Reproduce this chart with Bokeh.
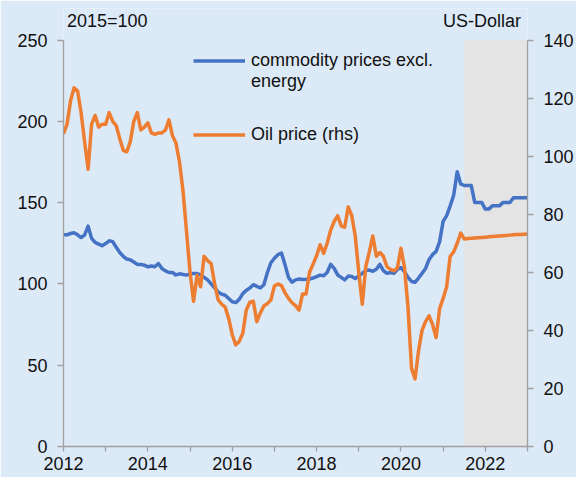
from bokeh.plotting import figure
from bokeh.models import (Range1d, LinearAxis, FixedTicker, BoxAnnotation, Label,
                          Legend, LegendItem)
from bokeh.embed import file_html
from bokeh.resources import INLINE

# ---------------- data (monthly, index 0 = start of 2012) ----------------
start_year = 2012
n_months = 133

commodity = [
    130.2, 130.2, 131.0, 131.5, 130.2, 128.5, 130.0, 135.5, 128.0, 125.5, 124.5, 123.5,
    124.8, 126.5, 126.0, 122.5, 119.3, 117.0, 115.3, 114.8, 113.5, 112.0, 112.0, 111.5,
    110.5, 111.0, 110.5, 112.5, 109.5, 108.0, 107.0, 107.0, 105.5, 106.2, 105.8, 105.4,
    106.2, 106.4, 106.4, 105.5, 104.0, 102.5, 100.0, 97.5, 95.0, 93.7, 93.0, 91.0,
    89.0, 88.5, 90.5, 94.0, 96.0, 97.5, 99.5, 98.5, 97.5, 99.5, 107.0, 113.0,
    115.8, 118.0, 119.0, 112.0, 104.0, 101.0, 102.5, 103.0, 102.7, 102.8, 103.0, 103.6,
    104.5, 105.4, 105.0, 107.0, 112.0, 109.5, 105.5, 104.0, 102.5, 104.8, 104.6, 103.3,
    105.0, 106.5, 108.4, 108.5, 107.8, 109.0, 112.0, 108.2, 106.5, 107.0, 106.5, 109.0,
    110.0, 107.5, 104.0, 101.5, 101.0, 103.6, 106.5, 109.5, 115.0, 118.0, 120.0, 126.0,
    138.5, 142.0, 148.0, 154.5, 169.0, 161.5, 160.5, 160.5, 160.5, 150.0, 150.0, 150.0,
    146.0, 146.0, 148.0, 148.0, 148.0, 150.0, 150.0, 150.0, 153.0, 153.0, 153.0, 153.0,
    153.0,
]

oil = [
    107.7, 111.0, 119.0, 123.5, 122.5, 115.0, 105.0, 95.5, 111.0, 114.0, 110.0, 111.0,
    111.0, 115.0, 112.0, 110.5, 106.0, 102.0, 101.5, 105.0, 112.0, 115.0, 109.0, 110.0,
    111.5, 108.0, 107.5, 108.0, 108.0, 109.0, 112.5, 107.0, 104.5, 98.0, 88.0, 74.0,
    60.0, 50.0, 59.0, 55.0, 65.5, 64.0, 63.0, 56.0, 50.5, 49.0, 48.0, 44.0,
    38.5, 35.0, 36.2, 39.0, 47.0, 49.7, 50.0, 43.0, 46.0, 48.4, 49.2, 50.5,
    55.3, 56.0, 55.4, 53.0, 51.0, 49.5, 48.5, 47.0, 52.5, 52.5, 60.0, 62.8,
    65.7, 69.5, 66.5, 70.0, 74.5, 77.5, 79.5, 76.0, 75.5, 82.5, 79.5, 72.5,
    60.0, 49.0, 62.0, 67.0, 72.5, 65.5, 66.8, 65.5, 62.0, 61.0, 60.5, 61.5,
    68.3, 61.7, 48.0, 27.0, 23.3, 33.0, 40.0, 43.0, 45.0, 42.0, 37.5, 47.5,
    51.0, 55.0, 65.5, 67.0, 70.0, 73.5, 71.5, 71.6, 71.7, 71.8, 71.9, 72.0,
    72.1, 72.2, 72.3, 72.4, 72.5, 72.6, 72.7, 72.8, 72.9, 73.0, 73.0, 73.1,
    73.2,
]

x_major_ticks = [2012, 2014, 2016, 2018, 2020, 2022]
x_minor_ticks = [2013, 2015, 2017, 2019, 2021, 2023]
left_ticks = [0, 50, 100, 150, 200, 250]
right_ticks = [0, 20, 40, 60, 80, 100, 120, 140]
left_max, right_max = 250, 140
forecast_start = 2021.5
x_end = 2023

# ---------------- styling / layout ----------------
BG = "#dce9f7"
SHADE = "#e4e4e4"
BLUE = "#4472c4"
ORANGE = "#ed7d31"
AXIS = "#a0a0a0"
TXT = "#111111"
FONT = "Liberation Sans"
FS = "18px"

W, H = 576, 477
B_LEFT, B_RIGHT, B_TOP, B_BOTTOM = 63, 49, 8, 31
axis_px = 406.5                       # pixel height of the 0..250 axis
frame_px = H - B_TOP - B_BOTTOM
left_top = left_max * frame_px / axis_px
right_top = right_max * frame_px / axis_px
head_units = 18.7 * left_max / axis_px  # header text 18.7 px above the axis top

x = [start_year + i / 12 for i in range(n_months)]

p = figure(width=W, height=H, output_backend="svg", toolbar_location=None,
           x_range=Range1d(start_year, x_end), y_range=Range1d(0, left_top),
           min_border_left=B_LEFT, min_border_right=B_RIGHT, min_border_top=B_TOP,
           min_border_bottom=B_BOTTOM, background_fill_color=BG,
           border_fill_color=BG, outline_line_color=None)
p.extra_y_ranges = {"oil": Range1d(0, right_top)}
p.xgrid.visible = False
p.ygrid.visible = False

p.add_layout(BoxAnnotation(left=forecast_start, right=x_end, bottom=0, top=left_max,
                           fill_color=SHADE, fill_alpha=1.0, line_color=None,
                           level="underlay"))

r_blue = p.line(x, commodity, line_color=BLUE, line_width=3.5, line_join="round")
r_oil = p.line(x, oil, y_range_name="oil", line_color=ORANGE, line_width=3.5,
               line_join="round")
r_dummy = p.line(x=[], y=[], line_alpha=0)


def style_axis(ax, tick_out, standoff):
    ax.axis_line_color = AXIS
    ax.axis_line_width = 1.3
    ax.major_tick_line_color = AXIS
    ax.major_tick_line_width = 1.3
    ax.major_tick_in = 0
    ax.major_tick_out = tick_out
    ax.minor_tick_line_color = None
    ax.major_label_standoff = standoff
    ax.major_label_text_font = FONT
    ax.major_label_text_font_size = FS
    ax.major_label_text_color = TXT


xa = p.xaxis[0]
xa.ticker = FixedTicker(ticks=x_major_ticks, minor_ticks=x_minor_ticks)
style_axis(xa, 5, 5)
xa.minor_tick_line_color = AXIS
xa.minor_tick_line_width = 1.3
xa.minor_tick_in = 0
xa.minor_tick_out = 5

ya = p.yaxis[0]
ya.ticker = FixedTicker(ticks=left_ticks)
ya.bounds = (0, left_max)
style_axis(ya, 6, 10)

ra = LinearAxis(y_range_name="oil", ticker=FixedTicker(ticks=right_ticks),
                bounds=(0, right_max))
style_axis(ra, 6, 10)
p.add_layout(ra, "right")

p.add_layout(Label(x=start_year, y=left_max + head_units, x_offset=3.5,
                   text="2015=100", text_align="left", text_baseline="middle",
                   text_font=FONT, text_font_size=FS, text_color=TXT))
p.add_layout(Label(x=x_end, y=left_max + head_units, x_offset=-6.5,
                   text="US-Dollar", text_align="right", text_baseline="middle",
                   text_font=FONT, text_font_size=FS, text_color=TXT))


def make_legend(items, loc):
    return Legend(items=items, location=loc, orientation="vertical",
                  glyph_width=52, glyph_height=21, label_height=21,
                  label_standoff=6, spacing=0, padding=0, margin=0,
                  border_line_color=None, background_fill_alpha=0,
                  label_text_font=FONT, label_text_font_size=FS,
                  label_text_color=TXT)


leg1 = make_legend([LegendItem(label="commodity prices excl.", renderers=[r_blue]),
                    LegendItem(label="energy", renderers=[r_dummy])], (130, 354))
leg2 = make_legend([LegendItem(label="Oil price (rhs)", renderers=[r_oil])], (130, 301))
p.add_layout(leg1)
p.add_layout(leg2)

open("out.html", "w").write(file_html(p, INLINE))
